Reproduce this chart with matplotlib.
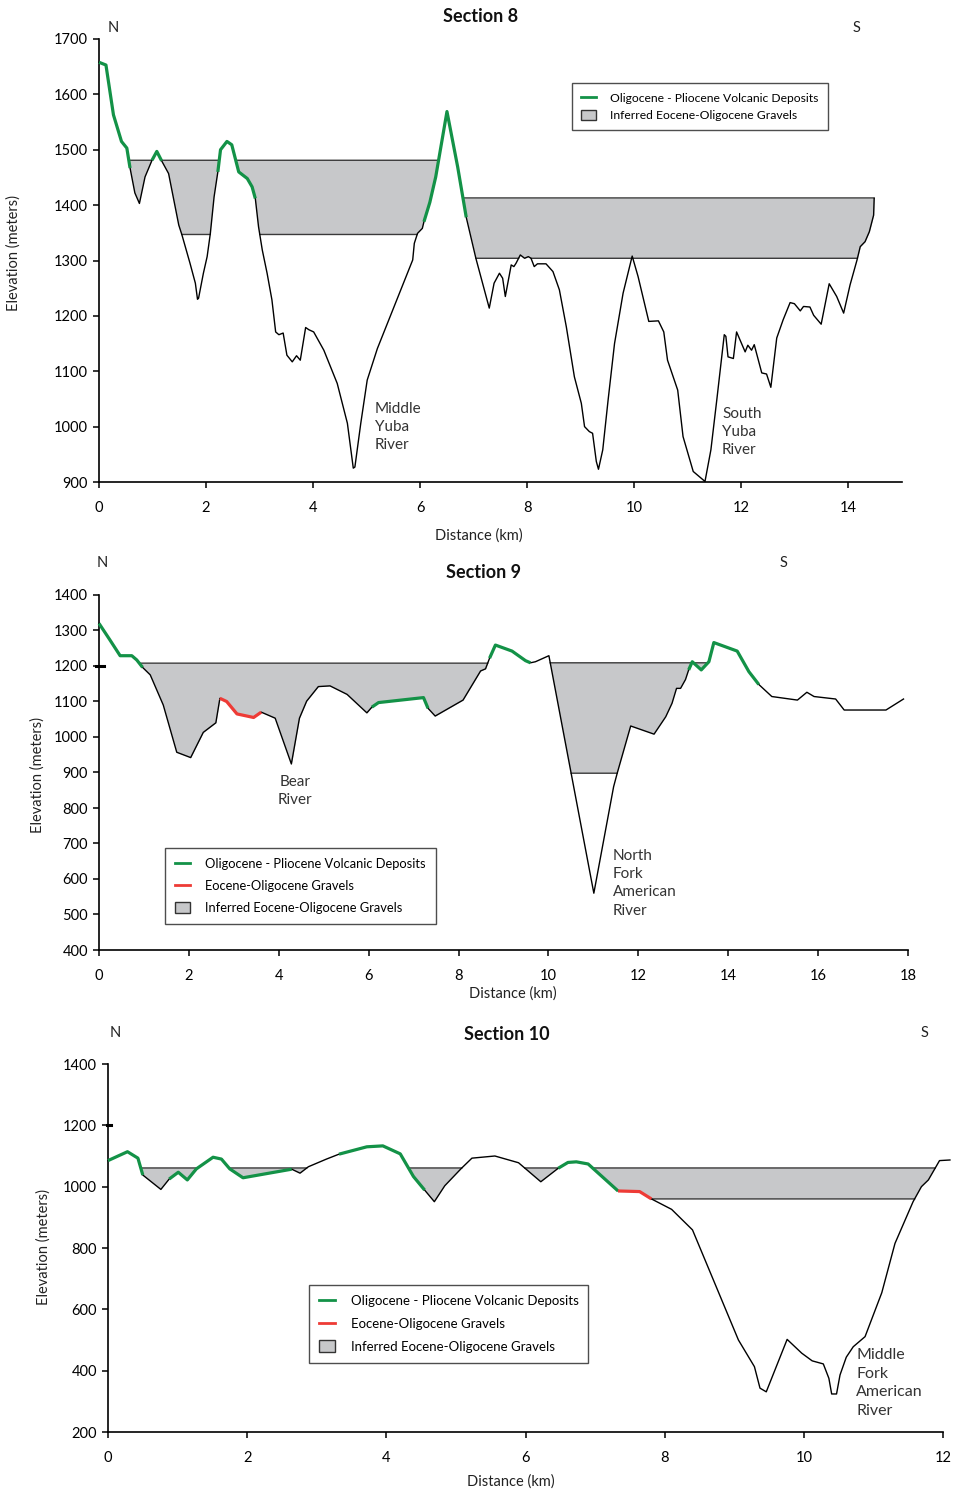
import numpy as np
import matplotlib
matplotlib.use("Agg")
import matplotlib.pyplot as plt
from matplotlib.lines import Line2D
from matplotlib.patches import Patch

plt.rcParams['font.family'] = ['Lato', 'DejaVu Sans']

W, H = 955, 1495

# ---------------- Section 8 ----------------
d8 = [0, 0.13, 0.27, 0.42, 0.52, 0.58, 0.67, 0.755, 0.86, 0.99, 1.08, 1.17, 1.30, 1.49, 1.55, 1.70, 1.80, 1.84, 1.86,
      1.95, 2.02, 2.08, 2.15, 2.22, 2.27, 2.39, 2.48, 2.61, 2.77, 2.86, 2.92, 2.98, 3.05, 3.14, 3.23, 3.30, 3.36, 3.44,
      3.51, 3.61, 3.69, 3.76, 3.86, 3.92, 4.01, 4.20, 4.45, 4.64, 4.75, 4.78, 4.89, 5.01, 5.20, 5.39, 5.64, 5.86, 5.89,
      5.95, 6.04, 6.07, 6.18, 6.29, 6.50, 6.70, 6.86, 7.04, 7.29, 7.38, 7.48, 7.54, 7.59, 7.70, 7.75, 7.79, 7.87, 7.95, 8.02,
      8.07, 8.13, 8.19, 8.35, 8.48, 8.60, 8.73, 8.88, 9.01, 9.07, 9.16, 9.22, 9.29, 9.33, 9.41, 9.51, 9.63, 9.79, 9.96,
      10.07, 10.27, 10.45, 10.55, 10.62, 10.81, 10.91, 11.10, 11.32, 11.43, 11.54, 11.68, 11.71, 11.75, 11.85, 11.91,
      11.99, 12.07, 12.12, 12.19, 12.24, 12.38, 12.47, 12.55, 12.66, 12.78, 12.91, 12.99, 13.10, 13.16, 13.28, 13.35,
      13.49, 13.64, 13.78, 13.91, 14.03, 14.16, 14.22, 14.31, 14.39, 14.47, 14.48]
e8 = [1658, 1653, 1563, 1515, 1503, 1467, 1422, 1403, 1451, 1481, 1497, 1480, 1457, 1364, 1346, 1295, 1259, 1230, 1232,
      1277, 1307, 1349, 1415, 1460, 1500, 1515, 1509, 1460, 1448, 1433, 1412, 1361, 1319, 1277, 1229, 1171, 1166, 1169,
      1129, 1117, 1128, 1120, 1179, 1175, 1171, 1138, 1078, 1006, 925, 927, 1006, 1084, 1141, 1187, 1247, 1301, 1331,
      1349, 1358, 1370, 1405, 1451, 1569, 1469, 1378, 1304, 1214, 1259, 1277, 1268, 1235, 1292, 1289, 1295, 1310, 1304, 1307,
      1304, 1289, 1294, 1294, 1280, 1247, 1180, 1090, 1042, 1000, 991, 988, 937, 923, 958, 1048, 1150, 1241, 1308,
      1271, 1190, 1191, 1171, 1120, 1066, 982, 919, 901, 958, 1048, 1166, 1163, 1126, 1123, 1171,
      1153, 1135, 1147, 1138, 1148, 1097, 1095, 1071, 1160, 1193, 1224, 1222, 1209, 1217, 1216, 1201,
      1185, 1258, 1235, 1205, 1256, 1301, 1325, 1334, 1352, 1382, 1412]
green8 = [(0, 0.58), (0.99, 1.17), (2.22, 2.92), (6.07, 6.86)]
red8 = []
# (start, end, top elevation, floor elevation)
fill8 = [(0.58, 6.45, 1481, 1347), (6.7, 14.48, 1413, 1304)]

# ---------------- Section 9 ----------------
d9 = [0, 0.245, 0.47, 0.73, 0.84, 0.97, 1.14, 1.43, 1.73, 2.04, 2.32, 2.60, 2.69, 2.84, 3.07, 3.44, 3.61, 3.92, 4.28,
      4.46, 4.62, 4.88, 5.14, 5.52, 5.96, 6.07, 6.22, 7.22, 7.32, 7.48, 8.10, 8.49, 8.60, 8.69, 8.82, 9.19, 9.49, 9.60,
      9.71, 10.01, 11.01, 11.45, 11.53, 11.83, 12.35, 12.61, 12.75, 12.85, 12.94, 13.05, 13.12, 13.20, 13.40, 13.57,
      13.68, 14.20, 14.46, 14.68, 14.97, 15.54, 15.75, 15.91, 16.39, 16.58, 17.51, 17.90]
e9 = [1320, 1273, 1229, 1229, 1217, 1196, 1175, 1090, 957, 942, 1013, 1040, 1109, 1100, 1065, 1055, 1070, 1053, 924,
      1053, 1101, 1142, 1144, 1120, 1068, 1084, 1097, 1111, 1081, 1059, 1104, 1186, 1192, 1222, 1259, 1242, 1215, 1209,
      1212, 1229, 560, 860, 898, 1031, 1008, 1057, 1095, 1137, 1137, 1162, 1189, 1212, 1189, 1212,
      1266, 1242, 1184, 1148, 1114, 1104, 1126, 1114, 1107, 1076, 1076, 1107]
green9 = [(0, 0.97), (6.07, 7.32), (8.69, 9.60), (13.12, 14.68)]
red9 = [(2.69, 3.61)]
fill9 = [(0.85, 8.7, 1208, None), (9.9, 13.6, 1209, 898)]

# ---------------- Section 10 ----------------
d10 = [0, 0.28, 0.43, 0.50, 0.76, 0.88, 1.01, 1.14, 1.27, 1.51, 1.63, 1.75, 1.94, 2.64, 2.76, 2.88, 3.14, 3.32, 3.72,
       3.95, 4.20, 4.39, 4.55, 4.69, 4.84, 5.08, 5.23, 5.56, 5.90, 6.22, 6.47, 6.61, 6.73, 6.90, 7.33, 7.64, 7.81,
       8.10, 8.40, 8.72, 9.06, 9.29, 9.37, 9.46, 9.76, 9.97, 10.12, 10.28, 10.36, 10.40, 10.47, 10.52, 10.61, 10.71,
       10.88, 11.12, 11.31, 11.57, 11.69, 11.79, 11.95, 12.10]
e10 = [1085, 1114, 1093, 1038, 991, 1025, 1047, 1022, 1058, 1096, 1090, 1058, 1029, 1057, 1044, 1065, 1090, 1106, 1130,
       1133, 1107, 1033, 989, 951, 1003, 1060, 1093, 1100, 1078, 1016, 1060, 1079, 1081, 1074, 986, 984, 960,
       926, 859, 685, 500, 413, 343, 331, 502, 457, 432, 422, 375, 324, 324, 386, 444, 478,
       511, 654, 815, 951, 1000, 1022, 1085, 1087]
green10 = [(0, 0.50), (0.88, 2.64), (3.32, 4.55), (6.47, 7.33)]
red10 = [(7.33, 7.81)]
fill10 = [(0.45, 5.2, 1061, None), (5.2, 11.9, 1061, 960)]

GREEN = '#139247'
RED = '#ee3b36'
GRAY = '#c7c8ca'

fig = plt.figure(figsize=(W / 100, H / 100), dpi=100)


def px_axes(l, r, t, b):
    return fig.add_axes([l / W, 1 - b / H, (r - l) / W, (b - t) / H])


def ftext(x, y, s, **kw):
    fig.text(x / W, 1 - y / H, s, **kw)


def draw_section(ax, d, e, greens, reds, fills, xlim, ylim, xt, yt):
    d = np.asarray(d, float)
    e = np.asarray(e, float)
    for (a, b, top, floor) in fills:
        xx = np.linspace(a, b, 3000)
        pp = np.interp(xx, d, e)
        mask = pp < top
        lower = pp.copy()
        if floor is not None:
            lower = np.maximum(pp, floor)
        ax.fill_between(xx, lower, top, where=mask, color=GRAY, lw=0, zorder=1)
        ax.plot(xx, np.where(mask, top, np.nan), color='#3a3a3a', lw=1.0, zorder=2)
        if floor is not None:
            fm = pp < floor
            ax.plot(xx, np.where(fm, floor, np.nan), color='#3a3a3a', lw=1.0, zorder=2)
    ax.plot(d, e, color='black', lw=1.0, zorder=3, clip_on=False)
    for (a, b) in greens:
        m = (d >= a - 1e-9) & (d <= b + 1e-9)
        ax.plot(d[m], e[m], color=GREEN, lw=2.3, zorder=4, solid_capstyle='butt', clip_on=False)
    for (a, b) in reds:
        m = (d >= a - 1e-9) & (d <= b + 1e-9)
        ax.plot(d[m], e[m], color=RED, lw=2.3, zorder=4, solid_capstyle='butt', clip_on=False)
    ax.set_xlim(*xlim)
    ax.set_ylim(*ylim)
    ax.set_xticks(xt)
    ax.set_yticks(yt)
    for s in ('top', 'right'):
        ax.spines[s].set_visible(False)
    for s in ('left', 'bottom'):
        ax.spines[s].set_linewidth(1.2)
    ax.tick_params(direction='out', length=4, width=1.1, labelsize=10.5, pad=4)
    ax.tick_params(axis='x', pad=10)
    ax.patch.set_alpha(0)


def add_legend(ax, x, y, with_red, fs, spacing):
    handles = [Line2D([], [], color=GREEN, lw=2)]
    labels = ['Oligocene - Pliocene Volcanic Deposits']
    if with_red:
        handles.append(Line2D([], [], color=RED, lw=2))
        labels.append('Eocene-Oligocene Gravels')
    handles.append(Patch(facecolor=GRAY, edgecolor='#333333', lw=1))
    labels.append('Inferred Eocene-Oligocene Gravels')
    leg = ax.legend(handles, labels, loc='upper left', bbox_to_anchor=(x / W, 1 - y / H),
                    bbox_transform=fig.transFigure, fontsize=fs, frameon=True, fancybox=False,
                    handlelength=1.2, handleheight=1.0, handletextpad=1.2,
                    labelspacing=spacing, borderpad=0.75, borderaxespad=0)
    leg.get_frame().set_edgecolor('#222222')
    leg.get_frame().set_linewidth(1.0)
    return leg


# Section 8 axes
ax8 = px_axes(99, 902, 39, 482)
draw_section(ax8, d8, e8, green8, red8, fill8, (0, 15), (900, 1700), range(0, 15, 2), range(900, 1701, 100))
add_legend(ax8, 572, 83, False, 8.7, 0.5)

# Section 9 axes
ax9 = px_axes(99, 908, 595, 950)
draw_section(ax9, d9, e9, green9, red9, fill9, (0, 18), (400, 1400), range(0, 19, 2), range(400, 1401, 100))
add_legend(ax9, 165, 848, True, 9.25, 0.78)
ax9.plot([-0.06, 0.12], [1200, 1200], color='black', lw=2.2, clip_on=False, zorder=5)

# Section 10 axes
ax10 = px_axes(108, 943, 1064, 1432)
draw_section(ax10, d10, e10, green10, red10, fill10, (0, 12), (200, 1400), range(0, 13, 2), range(200, 1401, 200))
add_legend(ax10, 309, 1285, True, 9.5, 0.78)
ax10.plot([-0.02, 0.05], [1200, 1200], color='black', lw=2.2, clip_on=False, zorder=5)

# Titles and labels
tfont = dict(ha='center', va='center', fontsize=13, fontweight='bold', color='#111111')
ftext(481, 16, 'Section 8', **tfont)
ftext(484, 572, 'Section 9', **tfont)
ftext(507, 1035, 'Section 10', **tfont)

nfont = dict(ha='center', va='center', fontsize=10.5, color='#222222')
ftext(113, 28, 'N', **nfont)
ftext(856, 28, 'S', **nfont)
ftext(102, 563, 'N', **nfont)
ftext(783, 563, 'S', **nfont)
ftext(115, 1033, 'N', **nfont)
ftext(924, 1033, 'S', **nfont)

xl = dict(ha='center', va='center', fontsize=10.5, color='#222222')
ftext(479, 536, 'Distance (km)', **xl)
ftext(513, 994, 'Distance (km)', **xl)
ftext(511, 1482, 'Distance (km)', **xl)
yl = dict(ha='center', va='center', fontsize=10.5, rotation=90, color='#222222')
ftext(14, 253, 'Elevation (meters)', **yl)
ftext(38, 775, 'Elevation (meters)', **yl)
ftext(44, 1247, 'Elevation (meters)', **yl)

rl = dict(ha='left', va='top', fontsize=11, linespacing=1.38, color='#333333')
ftext(375, 402, 'Middle\nYuba\nRiver', **rl)
ftext(722, 407, 'South\nYuba\nRiver', **rl)
ftext(295, 775, 'Bear\nRiver', **dict(rl, ha='center', multialignment='center'))
ftext(613, 849, 'North\nFork\nAmerican\nRiver', **rl)
ftext(856, 1348, 'Middle\nFork\nAmerican\nRiver', **dict(rl, fontsize=11.5, linespacing=1.42))

fig.savefig('out.png', dpi=100)
